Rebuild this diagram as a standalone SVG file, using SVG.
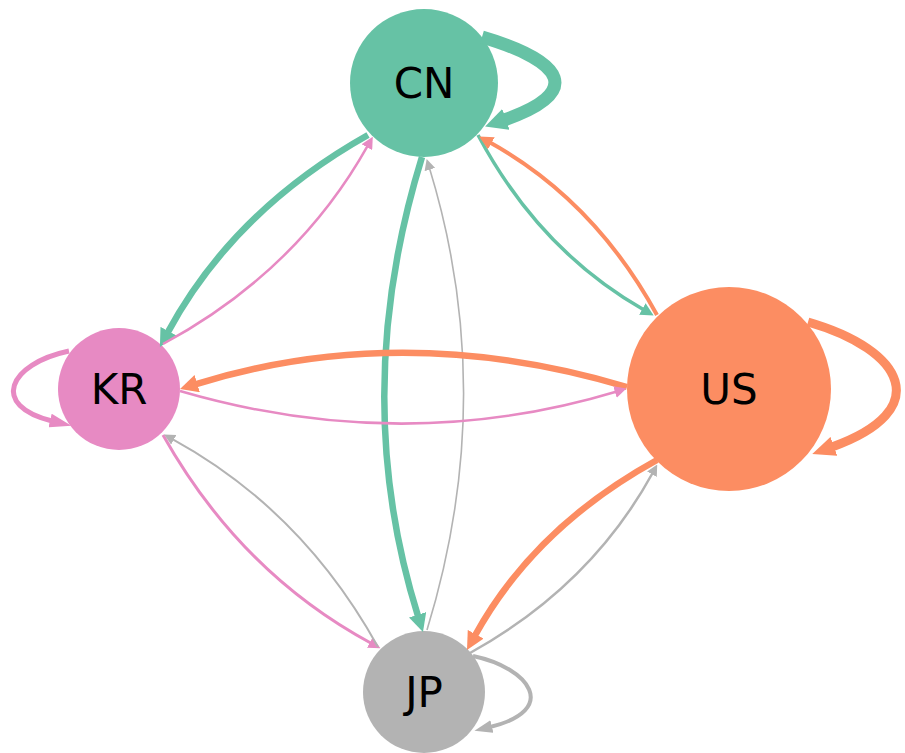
<svg xmlns="http://www.w3.org/2000/svg" width="905" height="753" viewBox="0 0 905 753">
<style>
.node text{font-family:"DejaVu Sans","Liberation Sans",sans-serif;font-size:42px;fill:#000;text-anchor:middle;dominant-baseline:central}
.e{fill:none;stroke-linecap:butt}
.g{stroke:#66c2a5}.o{stroke:#fc8d62}.p{stroke:#e78ac3}.y{stroke:#b3b3b3}
</style>
<defs>
<marker id="mG6" markerUnits="userSpaceOnUse" viewBox="-2 -9 18 18" markerWidth="18" markerHeight="18" refX="0" refY="0" orient="auto"><path d="M-2,-9L16,0L-2,9Z" fill="#66c2a5"/></marker>
<marker id="mG35" markerUnits="userSpaceOnUse" viewBox="-2 -6.5 13 13" markerWidth="13" markerHeight="13" refX="0" refY="0" orient="auto"><path d="M-2,-6.5L11,0L-2,6.5Z" fill="#66c2a5"/></marker>
<marker id="mO6" markerUnits="userSpaceOnUse" viewBox="-2 -9 18 18" markerWidth="18" markerHeight="18" refX="0" refY="0" orient="auto"><path d="M-2,-9L16,0L-2,9Z" fill="#fc8d62"/></marker>
<marker id="mO4" markerUnits="userSpaceOnUse" viewBox="-2 -7 14 14" markerWidth="14" markerHeight="14" refX="0" refY="0" orient="auto"><path d="M-2,-7L12,0L-2,7Z" fill="#fc8d62"/></marker>
<marker id="mP" markerUnits="userSpaceOnUse" viewBox="-2 -6 12 12" markerWidth="12" markerHeight="12" refX="0" refY="0" orient="auto"><path d="M-2,-6L10,0L-2,6Z" fill="#e78ac3"/></marker>
<marker id="mY" markerUnits="userSpaceOnUse" viewBox="-2 -5.5 11 11" markerWidth="11" markerHeight="11" refX="0" refY="0" orient="auto"><path d="M-2,-5.5L9,0L-2,5.5Z" fill="#b3b3b3"/></marker>
<marker id="mGL" markerUnits="userSpaceOnUse" viewBox="-2 -11 22 22" markerWidth="22" markerHeight="22" refX="0" refY="0" orient="auto"><path d="M-2,-11L20,0L-2,11Z" fill="#66c2a5"/></marker>
<marker id="mOL" markerUnits="userSpaceOnUse" viewBox="-2 -10 23 20" markerWidth="23" markerHeight="20" refX="0" refY="0" orient="auto"><path d="M-2,-10L21,0L-2,10Z" fill="#fc8d62"/></marker>
<marker id="mPL" markerUnits="userSpaceOnUse" viewBox="-2 -7 22 14" markerWidth="22" markerHeight="14" refX="0" refY="0" orient="auto"><path d="M-2,-7L20,0L-2,7Z" fill="#e78ac3"/></marker>
<marker id="mYL" markerUnits="userSpaceOnUse" viewBox="-2 -6.5 18 13" markerWidth="18" markerHeight="13" refX="0" refY="0" orient="auto"><path d="M-2,-6.5L16,0L-2,6.5Z" fill="#b3b3b3"/></marker>
</defs>
<g id="node-CN" class="node"><circle cx="424" cy="83" r="74" fill="#66c2a5"/><text x="424" y="83">CN</text></g>
<g id="node-KR" class="node"><circle cx="119" cy="389" r="61" fill="#e78ac3"/><text x="119" y="389">KR</text></g>
<g id="node-US" class="node"><circle cx="729" cy="389" r="102" fill="#fc8d62"/><text x="729" y="389">US</text></g>
<g id="node-JP" class="node"><circle cx="424" cy="692" r="61" fill="#b3b3b3"/><text x="424" y="692">JP</text></g>
<g id="connectors">
<path class="e g" stroke-width="6.5" d="M368,135 Q233.2,210.8 167.5,332.9" marker-end="url(#mG6)"/>
<path class="e p" stroke-width="2.5" d="M163,344 Q297.4,271.3 367.9,145.4" marker-end="url(#mP)"/>
<path class="e g" stroke-width="3.5" d="M478,135 Q539.4,250.4 644.1,310" marker-end="url(#mG35)"/>
<path class="e o" stroke-width="4" d="M657,315 Q594.3,200.3 489.6,142.3" marker-end="url(#mO4)"/>
<path class="e g" stroke-width="6.5" d="M422,157 Q348.5,394.6 418.2,616.7" marker-end="url(#mG6)"/>
<path class="e y" stroke-width="1.6" d="M427,630 Q499,395 429.3,167.6" marker-end="url(#mY)"/>
<path class="e o" stroke-width="6.5" d="M627,387 Q403.2,320 195.3,384.3" marker-end="url(#mO6)"/>
<path class="e p" stroke-width="2.5" d="M180,391 Q402.8,456 616.9,391.5" marker-end="url(#mP)"/>
<path class="e p" stroke-width="3" d="M163,435 Q240.6,573 371.6,643.5" marker-end="url(#mP)"/>
<path class="e y" stroke-width="2" d="M378,647 Q302.3,510.1 172,438.8" marker-end="url(#mY)"/>
<path class="e o" stroke-width="6.5" d="M657,460 Q534.4,527.4 474.7,636" marker-end="url(#mO6)"/>
<path class="e y" stroke-width="2.5" d="M470,653 Q590.8,586.1 652.9,472.5" marker-end="url(#mY)"/>
<path class="e g" stroke-width="13" stroke-linejoin="round" d="M482,37 C567,62 582,93 504,120" marker-end="url(#mGL)"/>
<path class="e p" stroke-width="5" d="M69,351 C8,364 -10,406 52,421" marker-end="url(#mPL)"/>
<path class="e o" stroke-width="9" d="M808,322 C905,350 935,410 832,447" marker-end="url(#mOL)"/>
<path class="e y" stroke-width="4" d="M473,656 C530,668 560,710 490,727" marker-end="url(#mYL)"/>
</g>
</svg>
